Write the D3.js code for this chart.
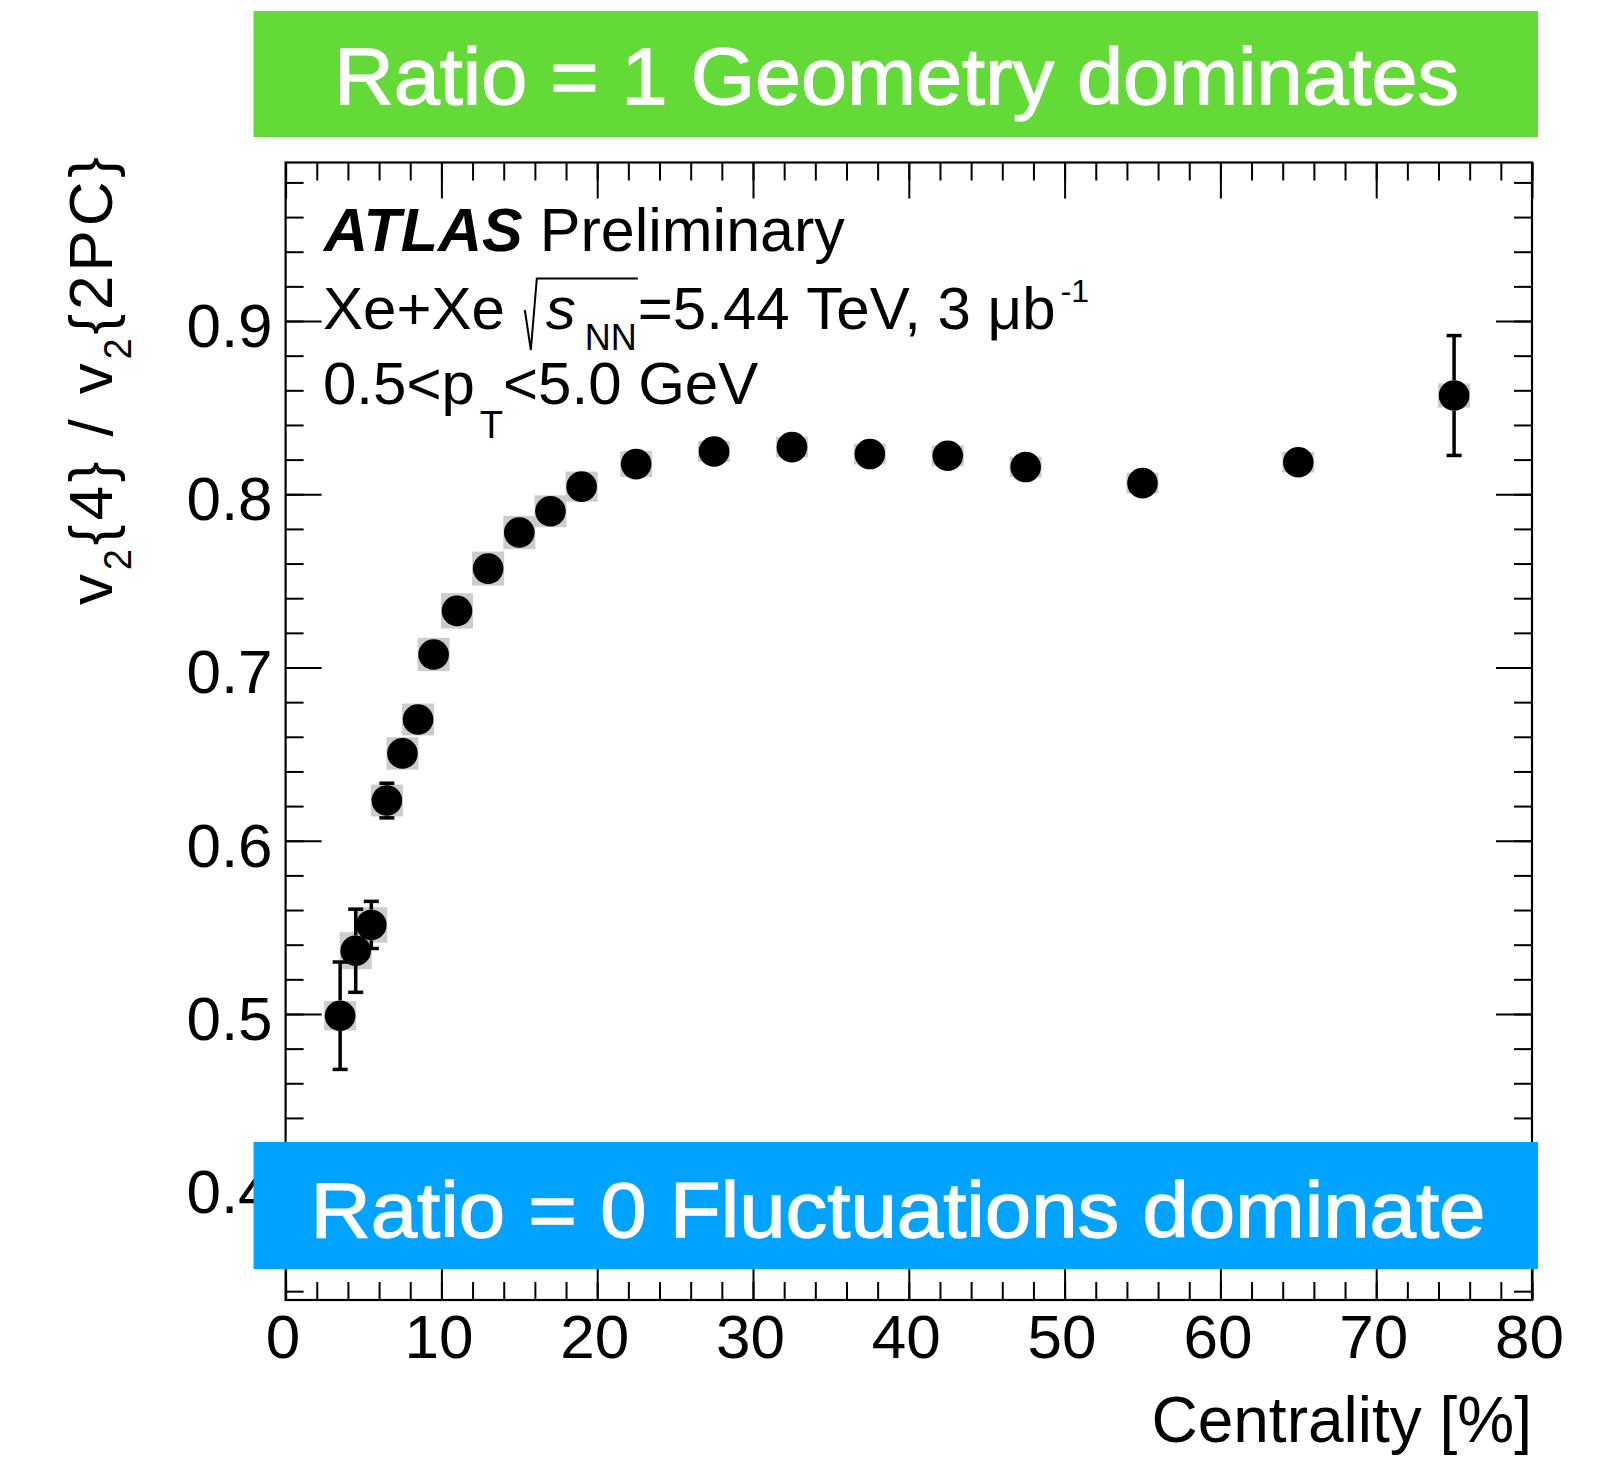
<!DOCTYPE html>
<html>
<head>
<meta charset="utf-8">
<script src="https://cdn.jsdelivr.net/npm/d3@7"></script>
<style>
  html, body { margin: 0; padding: 0; background: #fff; }
  svg { display: block; }
  text { font-family: "Liberation Sans", Arial, Helvetica, sans-serif; }
</style>
</head>
<body>
<svg id="chart" width="1623" height="1460"></svg>
<script>
// ---------------- data ----------------
const centrality = [3.5, 4.5, 5.5, 6.5, 7.5, 8.5, 9.5, 11, 13, 15, 17, 19, 22.5, 27.5, 32.5, 37.5, 42.5, 47.5, 55, 65, 75];
const ratio      = [0.499, 0.5365, 0.5514, 0.6232, 0.6504, 0.6700, 0.7075, 0.7327, 0.7571, 0.7779, 0.7902, 0.8044, 0.8174, 0.8247, 0.8272, 0.8232, 0.8222, 0.8157, 0.8064, 0.8185, 0.857];
const statErr    = [0.031, 0.024, 0.0136, 0.010, 0.006, 0.006, 0.006, 0.005, 0.005, 0.005, 0.005, 0.005, 0.005, 0.005, 0.005, 0.005, 0.005, 0.005, 0.006, 0.007, 0.0346];
const sysErr     = [0.0085, 0.0107, 0.0102, 0.0092, 0.0094, 0.0092, 0.0096, 0.0102, 0.0098, 0.0096, 0.0092, 0.0087, 0.0075, 0.006, 0.006, 0.006, 0.006, 0.006, 0.006, 0.006, 0.007];
const xMajorTicks = [0, 10, 20, 30, 40, 50, 60, 70, 80];
const xMinorTicks = d3.range(0, 81, 2);
const yMajorTicks = [0.4, 0.5, 0.6, 0.7, 0.8, 0.9];
const yMinorTicks = d3.range(34, 99, 2).map(v => v / 100);
const xDomain = [0, 80];
const yDomain = [0.3349, 0.9915];

// ---------------- layout ----------------
const W = 1623, H = 1460;
const frame = { left: 285.6, right: 1532, top: 162.5, bottom: 1300 };
const svg = d3.select("#chart");
svg.append("rect").attr("width", W).attr("height", H).attr("fill", "#fff");

const x = d3.scaleLinear().domain(xDomain).range([frame.left, frame.right]);
const y = d3.scaleLinear().domain(yDomain).range([frame.bottom, frame.top]);

const majorLen = 36, minorLen = 18, tickFont = 62;

function styleAxis(g) {
  g.select(".domain").remove();
  g.selectAll(".tick line").attr("stroke", "#000").attr("stroke-width", 2);
  g.selectAll(".tick text").attr("fill", "#000").attr("font-size", tickFont)
    .attr("font-family", "'Liberation Sans', Arial, sans-serif");
}

// bottom axis (labels)
svg.append("g").attr("transform", `translate(0,${frame.bottom})`)
  .call(d3.axisBottom(x).tickValues(xMajorTicks).tickSize(-majorLen).tickPadding(14).tickFormat(d3.format("d")))
  .call(styleAxis)
  .call(g => g.selectAll(".tick text").attr("dx", -3));
svg.append("g").attr("transform", `translate(0,${frame.bottom})`)
  .call(d3.axisBottom(x).tickValues(xMinorTicks).tickSize(-minorLen).tickFormat(""))
  .call(styleAxis);
// top axis
svg.append("g").attr("transform", `translate(0,${frame.top})`)
  .call(d3.axisTop(x).tickValues(xMajorTicks).tickSize(-majorLen).tickFormat(""))
  .call(styleAxis);
svg.append("g").attr("transform", `translate(0,${frame.top})`)
  .call(d3.axisTop(x).tickValues(xMinorTicks).tickSize(-minorLen).tickFormat(""))
  .call(styleAxis);
// left axis
const gl = svg.append("g").attr("transform", `translate(${frame.left},0)`)
  .call(d3.axisLeft(y).tickValues(yMajorTicks).tickSize(-majorLen).tickPadding(13).tickFormat(d3.format(".1f")))
  .call(styleAxis);
gl.selectAll(".tick text").attr("dy", "0.41em");
svg.append("g").attr("transform", `translate(${frame.left},0)`)
  .call(d3.axisLeft(y).tickValues(yMinorTicks).tickSize(-minorLen).tickFormat(""))
  .call(styleAxis);
// right axis
svg.append("g").attr("transform", `translate(${frame.right},0)`)
  .call(d3.axisRight(y).tickValues(yMajorTicks).tickSize(-majorLen).tickFormat(""))
  .call(styleAxis);
svg.append("g").attr("transform", `translate(${frame.right},0)`)
  .call(d3.axisRight(y).tickValues(yMinorTicks).tickSize(-minorLen).tickFormat(""))
  .call(styleAxis);

// frame
svg.append("rect")
  .attr("x", frame.left).attr("y", frame.top)
  .attr("width", frame.right - frame.left).attr("height", frame.bottom - frame.top)
  .attr("fill", "none").attr("stroke", "#000").attr("stroke-width", 2.2);

// ---------------- data marks ----------------
const pts = centrality.map((c, i) => ({ c, v: ratio[i], se: statErr[i], sy: sysErr[i] }));
const markerR = 15.3, sysBoxW = 32, capW = 15;

const gData = svg.append("g");
// systematic boxes
gData.selectAll("rect.sys").data(pts).join("rect").attr("class", "sys")
  .attr("x", d => x(d.c) - sysBoxW / 2)
  .attr("y", d => y(d.v + d.sy))
  .attr("width", sysBoxW)
  .attr("height", d => y(d.v - d.sy) - y(d.v + d.sy))
  .attr("fill", "#cccccc");

// statistical error bars (drawn outside the marker, ROOT style)
const withBars = pts.filter(d => (y(d.v - d.se) - y(d.v)) > markerR);
const gErr = gData.append("g").attr("stroke", "#000").attr("stroke-width", 3.5);
withBars.forEach(d => {
  const cx = x(d.c), cy = y(d.v), top = y(d.v + d.se), bot = y(d.v - d.se);
  gErr.append("line").attr("x1", cx).attr("x2", cx).attr("y1", top).attr("y2", cy - markerR);
  gErr.append("line").attr("x1", cx).attr("x2", cx).attr("y1", cy + markerR).attr("y2", bot);
  gErr.append("line").attr("x1", cx - capW / 2).attr("x2", cx + capW / 2).attr("y1", top).attr("y2", top);
  gErr.append("line").attr("x1", cx - capW / 2).attr("x2", cx + capW / 2).attr("y1", bot).attr("y2", bot);
});

// markers
gData.selectAll("circle.pt").data(pts).join("circle").attr("class", "pt")
  .attr("cx", d => x(d.c)).attr("cy", d => y(d.v)).attr("r", markerR).attr("fill", "#000");

// ---------------- texts ----------------
const F = 60;
// ATLAS Preliminary
const t1 = svg.append("text").attr("x", 324).attr("y", 251).attr("font-size", 61).attr("fill", "#000");
t1.append("tspan").attr("font-weight", "bold").attr("font-style", "italic").text("ATLAS");
t1.append("tspan").text("\u00a0Preliminary");

// text width measurement helper (temporary element)
function measure(str, size, italic) {
  const t = svg.append("text").attr("font-size", size).text(str);
  if (italic) t.attr("font-style", "italic");
  const w = t.node().getComputedTextLength();
  t.remove();
  return w;
}

// Line 2 : Xe+Xe sqrt(s_NN)=5.44 TeV, 3 μb^-1  (single text element, tspans)
const b2 = 329, x2 = 323;
const rx0 = x2 + measure("Xe+Xe", F) + 20;      // radical start
const sX = rx0 + 21;
const nnX = sX + measure("s", F, true) + 9;
const nnEnd = nnX + measure("NN", 36);
const eqX = Math.max(nnEnd + 1, rx0 + 112);
svg.append("path")
  .attr("d", `M${rx0},310 L${rx0 + 6},350 L${rx0 + 12},278.5 L${eqX},278.5`)
  .attr("fill", "none").attr("stroke", "#000").attr("stroke-width", 2);
const bX = eqX + measure("=5.44\u00a0TeV,\u00a03\u00a0μb", F) + 5;
const t2 = svg.append("text").attr("x", x2).attr("y", b2).attr("font-size", F).attr("fill", "#000");
t2.append("tspan").text("Xe+Xe");
t2.append("tspan").attr("x", sX).attr("font-style", "italic").text("s");
t2.append("tspan").attr("x", nnX).attr("dy", 21).attr("font-size", 36).text("NN");
t2.append("tspan").attr("x", eqX).attr("dy", -21).text("=5.44\u00a0TeV,\u00a03\u00a0μb");
t2.append("tspan").attr("x", bX).attr("dy", -27).attr("font-size", 32).text("-1");

// Line 3 : 0.5<p_T<5.0 GeV
const b3 = 404, x3 = 323;
const tX = x3 + measure("0.5<p", F) + 5;
const ltX = tX + measure("T", 38);
const t3 = svg.append("text").attr("x", x3).attr("y", b3).attr("font-size", F).attr("fill", "#000");
t3.append("tspan").text("0.5<p");
t3.append("tspan").attr("x", tX).attr("dy", 34).attr("font-size", 38).text("T");
t3.append("tspan").attr("x", ltX).attr("dy", -34).text("<5.0\u00a0GeV");

// Y axis title
const yt = svg.append("text")
  .attr("transform", "translate(112,157) rotate(-90)")
  .attr("text-anchor", "end").attr("font-size", 62).attr("fill", "#000")
  .attr("textLength", 448).attr("lengthAdjust", "spacing");
yt.append("tspan").text("v");
yt.append("tspan").attr("font-size", 38).attr("dy", 19).text("2");
yt.append("tspan").attr("dy", -19).text("{4} / v");
yt.append("tspan").attr("font-size", 38).attr("dy", 19).text("2");
yt.append("tspan").attr("dy", -19).text("{2PC}");

// X axis title
svg.append("text").attr("x", frame.right).attr("y", 1442).attr("text-anchor", "end")
  .attr("font-size", 64).attr("fill", "#000").text("Centrality [%]");

// ---------------- banners ----------------
const banners = [
  { x0: 253.5, x1: 1538, y0: 11, y1: 137, fill: "#63da38", text: "Ratio = 1 Geometry dominates", base: 104, len: 1125, size: 80, cx: 896.5 },
  { x0: 253.5, x1: 1538, y0: 1142, y1: 1269, fill: "#00a3ff", text: "Ratio = 0 Fluctuations dominate", base: 1237, len: 1175, size: 78, cx: 898 }
];
banners.forEach(b => {
  svg.append("rect").attr("x", b.x0).attr("y", b.y0).attr("width", b.x1 - b.x0).attr("height", b.y1 - b.y0).attr("fill", b.fill);
  svg.append("text").attr("x", b.cx).attr("y", b.base).attr("text-anchor", "middle")
    .attr("font-size", b.size).attr("fill", "#fff")
    .attr("stroke", "#fff").attr("stroke-width", 1.3)
    .attr("textLength", b.len).attr("lengthAdjust", "spacingAndGlyphs")
    .text(b.text);
});
</script>
</body>
</html>
